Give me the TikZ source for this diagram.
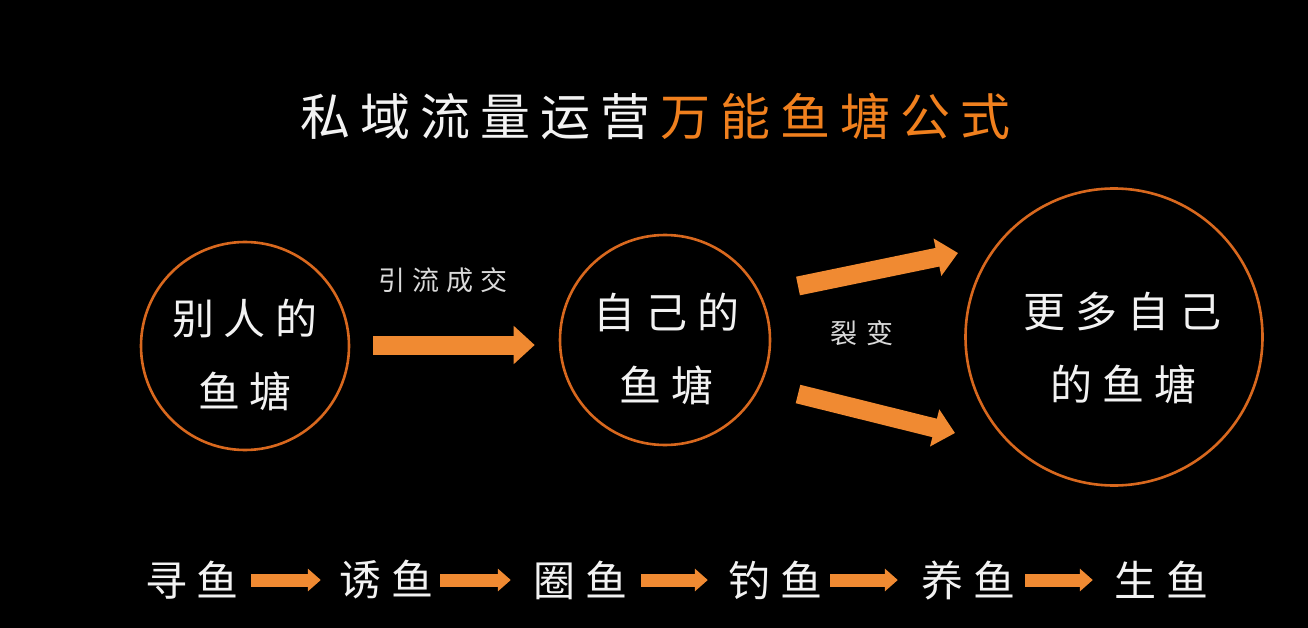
\documentclass[tikz,border=0pt]{standalone}
\usepackage{fontspec}
\newfontfamily\cjk{Noto Sans CJK SC}
\usetikzlibrary{arrows.meta}
\definecolor{pondc}{HTML}{D8681E}
\definecolor{arrowc}{HTML}{F08A32}
\definecolor{titleo}{HTML}{F0801E}
\definecolor{txt}{HTML}{F2F2F2}
\tikzset{
  pond/.style={circle, draw=pondc, line width=2.6pt, inner sep=0pt},
  ctext/.style={text=txt, inner sep=0pt, font=\cjk\fontsize{42}{50}\selectfont},
  ltext/.style={text=txt!90!black, inner sep=0pt, font=\cjk\fontsize{27}{32}\selectfont},
  bigarrow/.style={draw=arrowc, line width=19pt, -{Triangle[length=21pt,width=37pt]}},
  smallarrow/.style={draw=arrowc, line width=13pt, -{Triangle[length=13pt,width=22pt]}},
}
\newcommand\cjgap{\hspace{10pt}}
\newcommand\cjlgap{\hspace{7pt}}
\begin{document}
\begin{tikzpicture}[x=1pt,y=-1pt]
\fill[black] (0,0) rectangle (1308,628);
\useasboundingbox (0,0) rectangle (1308,628);

% title
\node[inner sep=0pt, font=\cjk\fontsize{50}{60}\selectfont] (title) at (655,116)
  {\textcolor{txt}{私\cjgap 域\cjgap 流\cjgap 量\cjgap 运\cjgap 营}\cjgap\textcolor{titleo}{万\cjgap 能\cjgap 鱼\cjgap 塘\cjgap 公\cjgap 式}};

% ponds
\node[pond, minimum size=208pt] (c1) at (245,346) {};
\node[ctext] (c1a) at (245,319) {别\cjgap 人\cjgap 的};
\node[ctext] (c1b) at (245,391) {鱼\cjgap 塘};

\node[pond, minimum size=210pt] (c2) at (665,340) {};
\node[ctext] (c2a) at (666,312) {自\cjgap 己\cjgap 的};
\node[ctext] (c2b) at (666,385) {鱼\cjgap 塘};

\node[pond, minimum size=297pt] (c3) at (1114,337) {};
\node[ctext] (c3a) at (1122,312) {更\cjgap 多\cjgap 自\cjgap 己};
\node[ctext] (c3b) at (1123,384) {的\cjgap 鱼\cjgap 塘};

% labels
\node[ltext] (l1) at (443,280) {引\cjlgap 流\cjlgap 成\cjlgap 交};
\node[ltext] (l2) at (862,333) {裂\hspace{9pt}变};

% arrows
\draw[bigarrow, shorten <=23pt, shorten >=24pt] (c1.east |- 0,345) -- (c2.west |- 0,345);
\coordinate (u1) at (798,286);
\coordinate (u2) at (958,253);
\coordinate (d1) at (798,394);
\coordinate (d2) at (955,433);
\draw[bigarrow] (u1) -- (u2);
\draw[bigarrow] (d1) -- (d2);

% bottom row
\node[ctext] (b1) at (192,580) {寻\cjgap 鱼};
\node[ctext] (b2) at (386,580) {诱\cjgap 鱼};
\node[ctext] (b3) at (580,580) {圈\cjgap 鱼};
\node[ctext] (b4) at (775,580) {钓\cjgap 鱼};
\node[ctext] (b5) at (968,580) {养\cjgap 鱼};
\node[ctext] (b6) at (1161,580) {生\cjgap 鱼};
\draw[smallarrow, shorten <=12pt, shorten >=18pt] (b1.east |- 0,580) -- (b2.west |- 0,580);
\draw[smallarrow, shorten <=7pt, shorten >=22pt] (b2.east |- 0,580) -- (b3.west |- 0,580);
\draw[smallarrow, shorten <=14pt, shorten >=20pt] (b3.east |- 0,580) -- (b4.west |- 0,580);
\draw[smallarrow, shorten <=8pt, shorten >=23pt] (b4.east |- 0,580) -- (b5.west |- 0,580);
\draw[smallarrow, shorten <=10pt, shorten >=21pt] (b5.east |- 0,580) -- (b6.west |- 0,580);
\end{tikzpicture}
\end{document}
